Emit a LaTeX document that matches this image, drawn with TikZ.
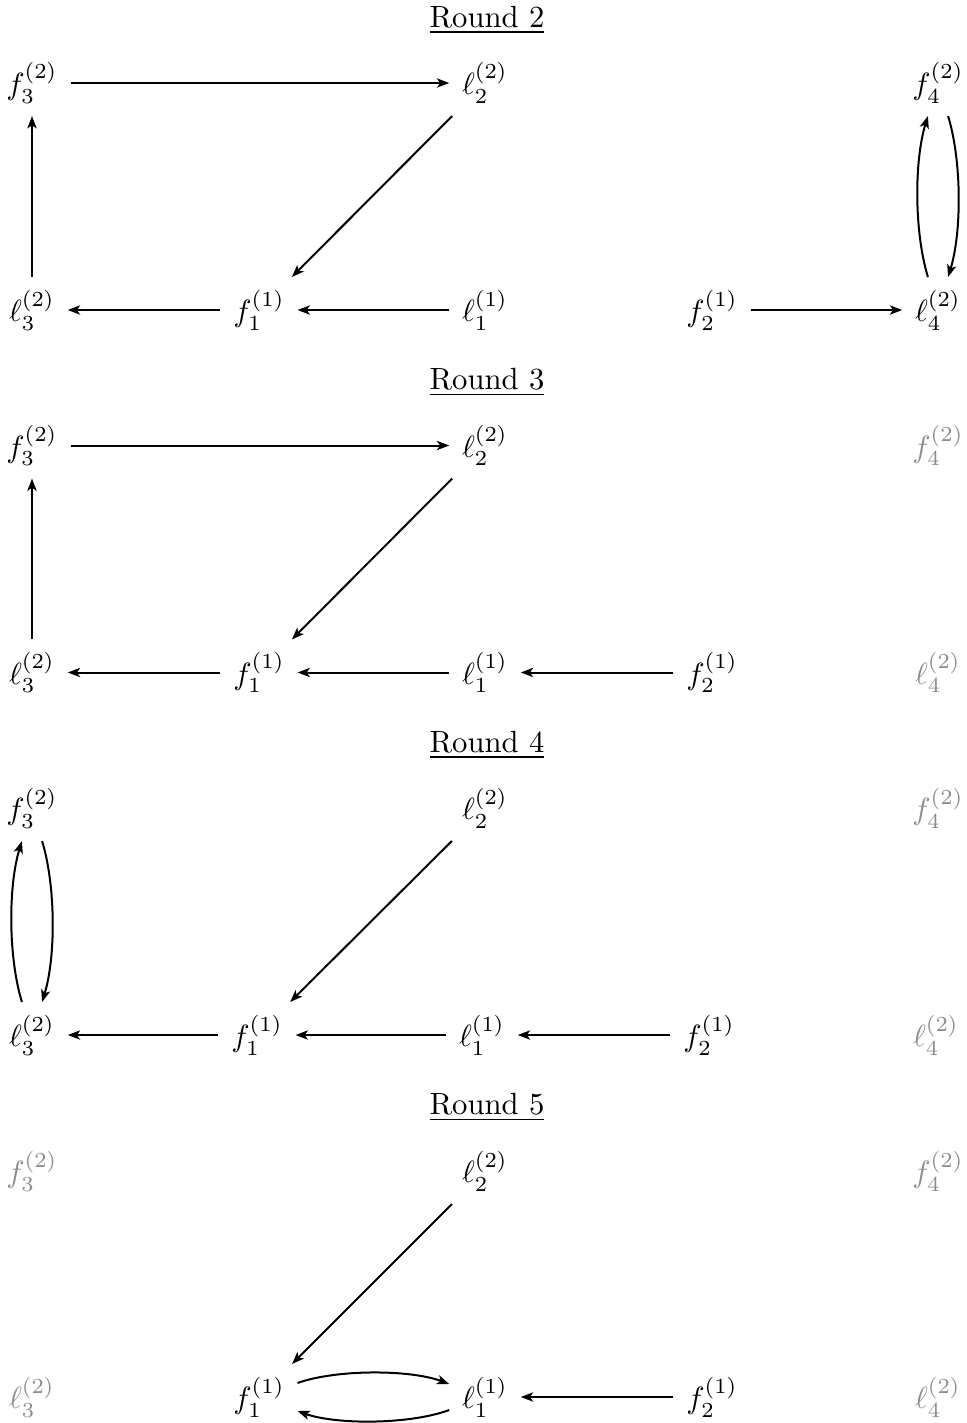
\documentclass[tikz,border=0pt]{standalone}
\usetikzlibrary{arrows.meta}
\begin{document}
\begin{tikzpicture}[x=0.3257pt,y=-0.3257pt,
  vtx/.style={inner sep=4pt},
  off/.style={vtx,text=black!45},
  arr/.style={line width=0.65pt,-{Stealth[length=4pt,width=3pt,inset=1pt]}},
  vbend/.style={bend left=17,looseness=0.75},
  hbend/.style={bend left=20,looseness=0.7},
  ttl/.style={anchor=base}]
\useasboundingbox (0,0) rectangle (967,1423);
\foreach \p/\r in {0/2,1/3,2/4,3/5}{
  \node[ttl] (t\r) at (487,{27+362.5*\p}) {\underline{Round \r}};
}
% ---------- Round 2 ----------
\begin{scope}[yshift=0]
\node[vtx] (a3) at (32,83) {$f_3^{(2)}$};
\node[vtx] (b2) at (485,83) {$\ell_2^{(2)}$};
\node[vtx] (a4) at (938,83) {$f_4^{(2)}$};
\node[vtx] (b3) at (32,310) {$\ell_3^{(2)}$};
\node[vtx] (a1) at (259,310) {$f_1^{(1)}$};
\node[vtx] (b1) at (485,310) {$\ell_1^{(1)}$};
\node[vtx] (a2) at (712,310) {$f_2^{(1)}$};
\node[vtx] (b4) at (938,310) {$\ell_4^{(2)}$};
\draw[arr] (a3) -- (b2);
\draw[arr] (b3) -- (a3);
\draw[arr] (b2) -- (a1);
\draw[arr] (a1) -- (b3);
\draw[arr] (b1) -- (a1);
\draw[arr] (a2) -- (b4);
\draw[arr] (b4) to[vbend] (a4);
\draw[arr] (a4) to[vbend] (b4);
\end{scope}
% ---------- Round 3 ----------
\begin{scope}[yshift=-362.5*0.3257pt]
\node[vtx] (c3) at (32,83) {$f_3^{(2)}$};
\node[vtx] (d2) at (485,83) {$\ell_2^{(2)}$};
\node[off] (c4) at (938,83) {$f_4^{(2)}$};
\node[vtx] (d3) at (32,310) {$\ell_3^{(2)}$};
\node[vtx] (c1) at (259,310) {$f_1^{(1)}$};
\node[vtx] (d1) at (485,310) {$\ell_1^{(1)}$};
\node[vtx] (c2) at (712,310) {$f_2^{(1)}$};
\node[off] (d4) at (938,310) {$\ell_4^{(2)}$};
\draw[arr] (c3) -- (d2);
\draw[arr] (d3) -- (c3);
\draw[arr] (d2) -- (c1);
\draw[arr] (c1) -- (d3);
\draw[arr] (d1) -- (c1);
\draw[arr] (c2) -- (d1);
\end{scope}
% ---------- Round 4 ----------
\begin{scope}[yshift=-725*0.3257pt]
\node[vtx] (e3) at (32,83) {$f_3^{(2)}$};
\node[vtx] (g2) at (485,83) {$\ell_2^{(2)}$};
\node[off] (e4) at (938,83) {$f_4^{(2)}$};
\node[vtx] (g3) at (32,310) {$\ell_3^{(2)}$};
\node[vtx] (e1) at (257,310) {$f_1^{(1)}$};
\node[vtx] (g1) at (482,310) {$\ell_1^{(1)}$};
\node[vtx] (e2) at (709,310) {$f_2^{(1)}$};
\node[off] (g4) at (936,310) {$\ell_4^{(2)}$};
\draw[arr] (g3) to[vbend] (e3);
\draw[arr] (e3) to[vbend] (g3);
\draw[arr] (g2) -- (e1);
\draw[arr] (e1) -- (g3);
\draw[arr] (g1) -- (e1);
\draw[arr] (e2) -- (g1);
\end{scope}
% ---------- Round 5 ----------
\begin{scope}[yshift=-1088*0.3257pt]
\node[off] (h3) at (32,83) {$f_3^{(2)}$};
\node[vtx] (k2) at (485,83) {$\ell_2^{(2)}$};
\node[off] (h4) at (938,83) {$f_4^{(2)}$};
\node[off] (k3) at (32,309) {$\ell_3^{(2)}$};
\node[vtx] (h1) at (259,309) {$f_1^{(1)}$};
\node[vtx] (k1) at (485,309) {$\ell_1^{(1)}$};
\node[vtx] (h2) at (712,309) {$f_2^{(1)}$};
\node[off] (k4) at (938,309) {$\ell_4^{(2)}$};
\draw[arr] (k2) -- (h1);
\draw[arr] (h1) to[hbend] (k1);
\draw[arr] (k1) to[hbend] (h1);
\draw[arr] (h2) -- (k1);
\end{scope}
\end{tikzpicture}
\end{document}
